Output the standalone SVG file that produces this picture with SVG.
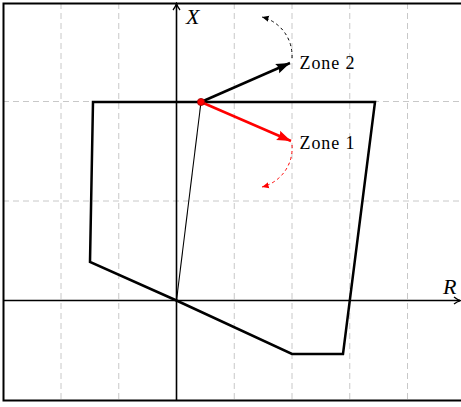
<svg xmlns="http://www.w3.org/2000/svg" width="461" height="407" viewBox="0 0 461 407">
<style>
.grid{stroke:#c8c8c8;stroke-width:1;stroke-dasharray:6,4;fill:none}
.frame{stroke:#000;stroke-width:2;fill:none}
.axis{stroke:#000;stroke-width:1.6;fill:none}
.poly{stroke:#000;stroke-width:2.5;fill:none;stroke-linejoin:miter}
.lbl{font-family:"Liberation Serif",serif;font-size:18px;fill:#000}
.ax{font-family:"Liberation Serif",serif;font-style:italic;font-size:22px;fill:#000}
</style>
<defs>
<marker id="axarr" markerWidth="10" markerHeight="10" refX="8" refY="5" orient="auto" markerUnits="userSpaceOnUse">
<path d="M2,1.5 Q5,4 8.5,5 Q5,6 2,8.5" fill="none" stroke="#000" stroke-width="1.3"/>
</marker>
<marker id="bigK" markerWidth="16" markerHeight="12" refX="14" refY="6" orient="auto" markerUnits="userSpaceOnUse">
<path d="M0,1 L14,6 L0,11 Q3,6 0,1 Z" fill="#000"/>
</marker>
<marker id="bigR" markerWidth="16" markerHeight="12" refX="14" refY="6" orient="auto" markerUnits="userSpaceOnUse">
<path d="M0,1 L14,6 L0,11 Q3,6 0,1 Z" fill="#f00"/>
</marker>
<marker id="smK" markerWidth="8" markerHeight="8" refX="7" refY="4" orient="auto" markerUnits="userSpaceOnUse">
<path d="M0,1 L7,4 L0,7 Q1.5,4 0,1 Z" fill="#000"/>
</marker>
<marker id="smR" markerWidth="8" markerHeight="8" refX="7" refY="4" orient="auto" markerUnits="userSpaceOnUse">
<path d="M0,1 L7,4 L0,7 Q1.5,4 0,1 Z" fill="#f00"/>
</marker>
</defs>
<rect x="0" y="0" width="461" height="407" fill="#fff"/>
<g id="grid">
<line class="grid" x1="61" y1="3" x2="61" y2="401"/>
<line class="grid" x1="118.75" y1="3" x2="118.75" y2="401"/>
<line class="grid" x1="234.25" y1="3" x2="234.25" y2="401"/>
<line class="grid" x1="292" y1="3" x2="292" y2="401"/>
<line class="grid" x1="349.75" y1="3" x2="349.75" y2="401"/>
<line class="grid" x1="407.5" y1="3" x2="407.5" y2="401"/>
<line class="grid" x1="3" y1="101.5" x2="461" y2="101.5"/>
<line class="grid" x1="3" y1="201" x2="461" y2="201"/>
</g>
<g id="frame">
<path class="frame" d="M461,3.5 L3.5,3.5 L3.5,400.5 L461,400.5"/>
</g>
<g id="axes">
<line class="axis" x1="3" y1="300.5" x2="460" y2="300.5" marker-end="url(#axarr)"/>
<line class="axis" x1="176.5" y1="401" x2="176.5" y2="4" marker-end="url(#axarr)"/>
<text class="ax" x="186" y="24">X</text>
<text class="ax" x="443" y="293.5">R</text>
</g>
<g id="polygon">
<path class="poly" d="M93,102 L375,102 L343,354 L292,354 L176.5,300.5 L90,262 Z"/>
</g>
<g id="connectors">
<line x1="176.5" y1="300.5" x2="201" y2="102" stroke="#000" stroke-width="1.1"/>
<line x1="201" y1="102" x2="290" y2="63" stroke="#000" stroke-width="2.5" marker-end="url(#bigK)"/>
<line x1="201" y1="102" x2="291" y2="141" stroke="#f00" stroke-width="2.5" marker-end="url(#bigR)"/>
<path d="M292,58 A40,40 0 0 0 262,17" fill="none" stroke="#000" stroke-width="1" stroke-dasharray="3,3" marker-end="url(#smK)"/>
<path d="M292,145 A40,40 0 0 1 262,187" fill="none" stroke="#f00" stroke-width="1" stroke-dasharray="3,3" marker-end="url(#smR)"/>
</g>
<g id="point">
<circle cx="201" cy="102" r="3.6" fill="#f00" stroke="#900" stroke-width="0.8"/>
</g>
<g id="labels">
<text class="lbl" x="299.5" y="68.5" textLength="55">Zone 2</text>
<text class="lbl" x="299.5" y="148.5" textLength="55">Zone 1</text>
</g>
</svg>
